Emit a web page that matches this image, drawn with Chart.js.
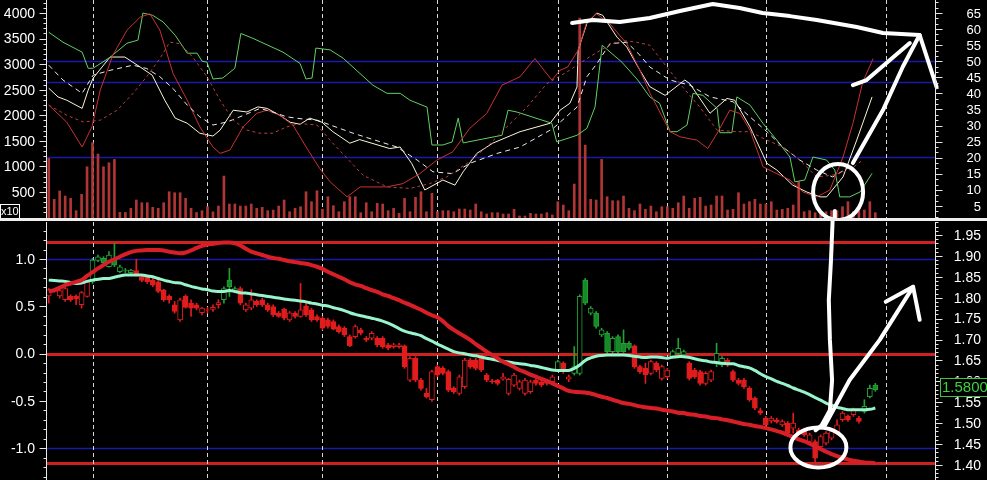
<!DOCTYPE html>
<html>
<head>
<meta charset="utf-8">
<script src="https://cdn.jsdelivr.net/npm/chart.js@4.4.1/dist/chart.umd.min.js"></script>
<style>
html, body { margin: 0; padding: 0; background: #000; }
#wrap { position: relative; width: 987px; height: 480px; overflow: hidden; background: #000; }
#top { position: absolute; left: 0; top: 0; }
#bot { position: absolute; left: 0; top: 218px; }
#sep { position: absolute; left: 0; top: 218px; width: 987px; height: 3px; background: #eeeeee; }
</style>
</head>
<body>
<div id="wrap">
  <canvas id="top" width="987" height="218"></canvas>
  <canvas id="bot" width="987" height="262"></canvas>
  <div id="sep"></div>
</div>
<script>
// ---- data ----
// volume bars, one per session
const volume = [1158,357,520,422,376,135,455,994,1463,1242,994,1072,1138,103,100,181,344,291,291,201,
  181,291,506,486,486,376,181,100,135,213,112,226,812,266,266,226,226,266,181,
  201,135,148,226,344,115,181,213,506,311,525,162,408,233,115,311,408,408,96,291,
  115,279,266,135,181,84,376,115,396,506,115,474,115,135,135,115,168,168,148,
  266,115,70,96,96,70,70,162,31,31,84,70,70,96,51,311,246,135,656,3900,1418,357,344,1138,
  408,330,330,422,181,135,266,162,226,115,213,213,181,291,
  422,181,376,396,226,246,422,422,148,162,486,266,311,357,266,266,311,148,162,181,
  246,701,115,135,96,96,115,135,135,213,311,115,135,148,311,96];

// oscillator lines of the upper panel: [session, value]
const greenLine = [[0,3625],[2.6,3430],[6.1,3235],[7.2,2920],[8.1,2920],[11.2,3135],[14.3,3410],[16.3,3470],[17.2,4000],[19.0,3955],[20.9,3825],[23.1,3565],[25.3,3215],[27.1,3215],[28.0,3060],[28.9,3040],[30.0,2710],[31.8,2730],[34.0,2920],[35.1,3600],[37.3,3505],[42.8,3235],[45.9,3015],[47.0,2710],[48.1,2730],[48.8,3315],[51.4,3280],[53.8,3115],[59.2,2590],[61.8,2430],[64.2,2430],[66.0,2295],[69.1,2160],[70.0,1420],[72.0,1420],[73.7,1480],[74.8,1945],[75.7,1460],[82.8,1610],[83.9,2100],[85.5,2065],[91.9,1845],[92.8,1480],[96.5,1610],[98.3,1745],[99.8,2165],[101.1,3370],[104.7,3040],[107.6,2690],[109.8,2360],[111.6,2235],[113.5,1680],[114.8,1680],[116.6,1810],[117.7,2430],[119.5,2390],[122.1,2135],[122.6,1660],[124.8,1660],[125.7,2360],[128.1,2200],[130.5,1840],[133.0,1515],[135.4,1185],[136.3,700],[138.1,735],[139.6,1185],[142.1,1125],[143.6,930],[144.5,405],[146.3,405],[148.2,500],[150.4,865]];
const whiteLine = [[0,2530],[1.7,2360],[3.3,2295],[6.1,2135],[7.2,2490],[8.1,2725],[11.2,3140],[13.9,3140],[16.7,2945],[18.9,2785],[21.2,2295],[23.1,1945],[25.3,1845],[27.6,1650],[30.0,1595],[31.3,1710],[33.7,2100],[36.2,2065],[38.2,2165],[39.9,2135],[42.2,2000],[44.1,1865],[45.9,1825],[47.7,1945],[49.9,1865],[51.9,1680],[55.0,1455],[56.8,1525],[62.3,1350],[64.2,1380],[66.3,1060],[68.7,540],[72.0,735],[74.2,635],[75.7,895],[78.2,1255],[81.1,1455],[86.1,1680],[91.6,1845],[93.4,2100],[95.2,2235],[96.5,2555],[96.7,3270],[98.3,3795],[100.1,4000],[101.2,3955],[103.8,3530],[105.6,3335],[108.0,2880],[109.8,2560],[112.6,2390],[116.2,2690],[117.1,2620],[120.8,2040],[123.9,2330],[125.3,2295],[128.1,1775],[131.2,1060],[133.0,930],[135.9,635],[138.5,500],[140.9,405],[142.1,405],[145.1,795],[147.6,1515],[150.4,2360]];
const redLine = [[0,2200],[3.3,1865],[6.1,1380],[7.9,1775],[9.4,2490],[11.7,3175],[14.3,3665],[16.7,3920],[18.5,3985],[20.3,3665],[22.7,2820],[25.3,2295],[27.6,1775],[30.0,1380],[31.3,1255],[33.1,1320],[35.5,1775],[38.0,2040],[39.9,2100],[42.2,2000],[44.6,1810],[47.2,1350],[49.5,960],[51.4,700],[54.5,405],[56.9,600],[61.8,600],[64.7,665],[67.8,860],[70.9,1125],[73.8,1285],[76.9,1745],[80.0,2035],[82.8,2590],[86.1,2755],[88.8,3110],[91.9,2690],[93.4,2880],[94.8,2945],[96.7,3270],[98.3,3830],[100.1,3985],[102.5,3790],[105.6,3400],[108.0,2880],[109.8,2440],[113.5,1680],[115.3,1580],[118.4,1515],[120.4,1350],[122.1,1650],[124.4,2100],[126.3,2035],[128.1,1710],[130.5,990],[133.0,860],[135.4,735],[137.8,500],[140.3,405],[142.7,540],[145.1,1185],[146.9,1840],[148.7,2650],[150.6,3110]];
const whiteDash = [[0,2980],[2.6,2690],[6.1,2430],[8.1,2785],[11.2,2880],[15.4,2980],[17.9,2915],[20.3,2755],[22.7,2525],[25.3,2200],[27.6,1970],[30.0,1810],[32.6,1870],[34.9,1970],[38.6,2135],[40.9,2065],[43.5,1970],[45.9,1935],[49.0,1905],[55.6,1650],[63.6,1380],[67.3,1125],[70.2,895],[73.8,860],[76.9,1060],[81.9,1255],[86.1,1380],[92.1,1740],[96.5,2160],[98.3,2755],[100.1,3005],[102.5,3400],[105.6,3430],[108.0,3175],[109.8,2945],[113.5,2690],[117.1,2590],[120.8,2360],[125.0,2265],[128.1,1970],[131.2,1680],[134.1,1380],[137.2,1125],[140.3,930],[143.2,795],[146.3,990],[149.3,1480]];
const redDash = [[0,2200],[3.3,2000],[6.3,1870],[9.4,1905],[12.5,2100],[15.4,2430],[17.9,2755],[20.3,3110],[22.1,3430],[24.0,3400],[26.3,3140],[28.9,2755],[31.3,2295],[33.7,1905],[36.2,1710],[38.6,1650],[40.9,1650],[43.5,1775],[45.9,1840],[49.0,1810],[51.9,1455],[54.5,1160],[57.4,830],[61.8,600],[66.0,570],[69.6,665],[72.7,795],[76.4,1060],[80.0,1380],[83.7,1775],[87.4,2165],[91.0,2620],[94.7,2850],[98.3,3110],[101.2,3300],[104.3,3470],[107.4,3430],[109.8,3370],[112.9,2945],[115.8,2555],[118.9,2165],[122.1,1710],[125.7,1680],[128.1,1680],[131.2,1515],[134.1,1380],[137.2,1125],[140.3,795],[143.2,830],[146.3,930],[148.7,1125]];

// price candles
const candleOpen = [1.804,1.820,1.804,1.795,1.803,1.803,1.783,1.803,1.838,1.889,
  1.894,1.874,1.892,1.862,1.866,1.860,1.865,1.850,1.849,1.842,
  1.838,1.819,1.804,1.783,1.747,1.803,1.787,1.783,1.764,1.771,
  1.772,1.783,1.795,1.842,1.815,1.822,1.771,1.775,1.791,1.795,
  1.783,1.779,1.763,1.772,1.747,1.763,1.755,1.780,1.771,1.755,
  1.751,1.747,1.743,1.731,1.727,1.707,1.707,1.723,1.703,1.703,
  1.703,1.703,1.687,1.683,1.683,1.685,1.603,1.655,1.603,1.571,
  1.556,1.635,1.631,1.623,1.583,1.571,1.587,1.651,1.651,1.655,
  1.615,1.601,1.603,1.605,1.571,1.591,1.583,1.571,1.575,1.603,
  1.599,1.603,1.599,1.627,1.643,1.605,1.619,1.619,1.842,1.763,
  1.763,1.711,1.715,1.671,1.707,1.691,1.691,1.685,1.635,1.631,
  1.619,1.643,1.607,1.611,1.659,1.667,1.663,1.643,1.627,1.623,
  1.595,1.603,1.643,1.639,1.651,1.623,1.603,1.603,1.583,1.560,
  1.530,1.512,1.505,1.508,1.496,1.500,1.488,1.484,1.484,1.456,
  1.456,1.444,1.452,1.464,1.476,1.508,1.516,1.520,1.512,1.528,
  1.563,1.591];
const candleHigh = [1.822,1.822,1.822,1.826,1.807,1.807,1.815,1.842,1.894,1.902,
  1.898,1.910,1.930,1.878,1.870,1.868,1.892,1.852,1.850,1.846,
  1.841,1.820,1.807,1.791,1.799,1.807,1.795,1.787,1.777,1.777,
  1.783,1.795,1.826,1.870,1.826,1.826,1.787,1.819,1.795,1.799,
  1.787,1.783,1.767,1.775,1.767,1.767,1.834,1.791,1.775,1.759,
  1.755,1.751,1.747,1.735,1.731,1.711,1.735,1.727,1.707,1.719,
  1.707,1.707,1.691,1.691,1.691,1.687,1.659,1.659,1.607,1.583,
  1.627,1.639,1.635,1.627,1.587,1.615,1.655,1.655,1.655,1.659,
  1.619,1.605,1.605,1.619,1.607,1.619,1.603,1.607,1.603,1.607,
  1.603,1.605,1.615,1.651,1.647,1.615,1.683,1.807,1.846,1.779,
  1.767,1.727,1.719,1.707,1.711,1.723,1.695,1.687,1.639,1.643,
  1.651,1.647,1.639,1.631,1.675,1.703,1.675,1.647,1.631,1.627,
  1.623,1.627,1.691,1.659,1.655,1.627,1.607,1.607,1.587,1.563,
  1.536,1.516,1.516,1.512,1.508,1.504,1.524,1.488,1.488,1.476,
  1.460,1.472,1.480,1.488,1.508,1.528,1.520,1.536,1.516,1.556,
  1.591,1.595];
const candleLow = [1.787,1.813,1.799,1.791,1.791,1.783,1.775,1.801,1.834,1.886,
  1.882,1.873,1.874,1.860,1.860,1.858,1.852,1.838,1.834,1.826,
  1.812,1.791,1.787,1.763,1.743,1.775,1.755,1.771,1.759,1.763,
  1.767,1.775,1.787,1.803,1.812,1.783,1.767,1.771,1.779,1.779,
  1.767,1.755,1.753,1.747,1.743,1.751,1.753,1.755,1.743,1.743,
  1.723,1.727,1.723,1.715,1.707,1.683,1.703,1.711,1.695,1.699,
  1.683,1.679,1.675,1.679,1.679,1.631,1.599,1.599,1.579,1.560,
  1.552,1.611,1.615,1.575,1.571,1.567,1.583,1.631,1.627,1.623,
  1.599,1.595,1.591,1.603,1.567,1.587,1.579,1.567,1.571,1.591,
  1.587,1.591,1.595,1.623,1.619,1.599,1.615,1.615,1.783,1.759,
  1.727,1.707,1.667,1.667,1.667,1.669,1.675,1.631,1.619,1.595,
  1.615,1.623,1.603,1.607,1.655,1.663,1.659,1.603,1.607,1.591,
  1.591,1.599,1.635,1.635,1.635,1.599,1.591,1.583,1.552,1.532,
  1.520,1.492,1.500,1.500,1.492,1.472,1.476,1.472,1.468,1.452,
  1.408,1.440,1.448,1.460,1.472,1.504,1.504,1.516,1.500,1.524,
  1.560,1.576];
const candleClose = [1.819,1.815,1.817,1.822,1.795,1.797,1.812,1.838,1.890,1.898,
  1.884,1.902,1.878,1.874,1.865,1.866,1.854,1.841,1.838,1.830,
  1.815,1.795,1.795,1.767,1.795,1.777,1.775,1.775,1.775,1.770,
  1.777,1.788,1.822,1.826,1.822,1.787,1.783,1.795,1.783,1.783,
  1.771,1.759,1.755,1.751,1.764,1.755,1.771,1.759,1.747,1.747,
  1.727,1.731,1.725,1.719,1.711,1.685,1.731,1.715,1.699,1.715,
  1.687,1.683,1.679,1.687,1.687,1.635,1.655,1.603,1.583,1.563,
  1.623,1.615,1.619,1.579,1.575,1.611,1.651,1.635,1.631,1.627,
  1.603,1.599,1.595,1.611,1.605,1.615,1.599,1.603,1.599,1.595,
  1.591,1.595,1.611,1.647,1.623,1.611,1.635,1.803,1.787,1.775,
  1.731,1.723,1.671,1.703,1.671,1.671,1.679,1.635,1.623,1.615,
  1.647,1.627,1.635,1.627,1.671,1.679,1.671,1.607,1.611,1.595,
  1.619,1.623,1.667,1.655,1.639,1.603,1.595,1.587,1.556,1.536,
  1.524,1.496,1.512,1.503,1.504,1.476,1.500,1.476,1.472,1.472,
  1.416,1.468,1.476,1.484,1.496,1.524,1.508,1.532,1.504,1.540,
  1.583,1.580];

// moving averages on price
const maSlow = [1.815,1.818,1.824,1.830,1.834,1.838,1.842,1.852,1.861,1.870,
  1.878,1.886,1.892,1.898,1.904,1.909,1.912,1.913,1.914,1.914,
  1.914,1.913,1.910,1.908,1.906,1.908,1.913,1.919,1.924,1.927,
  1.929,1.931,1.932,1.932,1.930,1.925,1.917,1.910,1.906,1.902,
  1.898,1.895,1.893,1.890,1.887,1.885,1.883,1.881,1.878,1.874,
  1.869,1.862,1.856,1.850,1.844,1.837,1.832,1.828,1.823,1.818,
  1.814,1.808,1.804,1.799,1.794,1.788,1.783,1.777,1.771,1.764,
  1.758,1.753,1.744,1.732,1.723,1.715,1.707,1.699,1.689,1.680,
  1.671,1.663,1.655,1.647,1.641,1.634,1.627,1.622,1.616,1.611,
  1.606,1.601,1.595,1.589,1.583,1.577,1.575,1.574,1.573,1.571,
  1.567,1.563,1.560,1.556,1.552,1.548,1.546,1.543,1.540,1.538,
  1.536,1.535,1.532,1.530,1.528,1.525,1.524,1.521,1.520,1.517,
  1.516,1.513,1.512,1.509,1.507,1.504,1.501,1.498,1.496,1.493,
  1.491,1.488,1.485,1.481,1.477,1.472,1.467,1.461,1.457,1.451,
  1.444,1.438,1.432,1.426,1.421,1.417,1.413,1.410,1.408,1.406,
  1.405,1.404];
const maFast = [1.842,1.841,1.840,1.839,1.836,1.834,1.835,1.839,1.842,1.844,
  1.846,1.846,1.849,1.852,1.854,1.854,1.854,1.854,1.852,1.850,
  1.846,1.842,1.839,1.836,1.835,1.831,1.827,1.824,1.821,1.819,
  1.816,1.815,1.815,1.817,1.815,1.812,1.811,1.809,1.807,1.805,
  1.803,1.801,1.799,1.797,1.795,1.794,1.792,1.790,1.787,1.785,
  1.782,1.780,1.776,1.773,1.769,1.764,1.760,1.757,1.754,1.751,
  1.748,1.744,1.739,1.733,1.726,1.720,1.716,1.713,1.709,1.702,
  1.696,1.689,1.683,1.677,1.671,1.668,1.666,1.663,1.661,1.658,
  1.655,1.653,1.650,1.648,1.646,1.644,1.642,1.641,1.638,1.636,
  1.633,1.630,1.627,1.626,1.626,1.626,1.631,1.639,1.650,1.656,
  1.660,1.662,1.663,1.663,1.663,1.663,1.662,1.660,1.658,1.657,
  1.658,1.658,1.657,1.655,1.658,1.659,1.659,1.657,1.654,1.651,
  1.649,1.646,1.645,1.643,1.642,1.642,1.638,1.635,1.632,1.626,
  1.618,1.611,1.606,1.600,1.595,1.590,1.584,1.579,1.574,1.568,
  1.561,1.555,1.548,1.543,1.538,1.535,1.532,1.532,1.532,1.532,
  1.533,1.536];
const lastPrice = 1.5800;

// month separators (session index) and levels
const monthStarts = [8, 29, 50, 71, 93, 113, 131, 153];
const topBlueLevels = [3059, 2643, 1190];
const botRedLevels = [1.18, 0.0, -1.157];
const botBlueLevels = [1.0, -1.0];

// tick labels
const topLeftTicks = [500, 1000, 1500, 2000, 2500, 3000, 3500, 4000];
const topRightTicks = [5, 10, 15, 20, 25, 30, 35, 40, 45, 50, 55, 60, 65];
const botLeftTicks = [1.0, 0.5, 0.0, -0.5, -1.0];
const botRightTicks = [1.95, 1.90, 1.85, 1.80, 1.75, 1.70, 1.65, 1.60, 1.55, 1.50, 1.45, 1.40];

// hand drawn marks on the screenshot: [session, value]
const scribbleTopCurve = [[95.6,3805],[99.4,3864],[104.3,3825],[109.8,3903],[115.3,4040],[121.3,4177],[126.2,4100],[130.4,4000],[135.4,3940],[140.3,3864],[147.6,3727],[152.4,3610],[159.1,3570],[162.2,2552]];
const scribbleTopArrow = [[146.9,1067],[152.4,2102],[156.0,2945],[158.6,3473],[159.1,3570]];
const scribbleTopBarb = [[146.9,2591],[149.4,2690],[157.3,3414]];
const scribbleTopLink = [[143.6,129],[143.6,-8]];
const scribbleTopRing = [144.2, 500];
const scribbleBotLine = [[143.2,1.986],[142.9,1.890],[142.5,1.794],[142.7,1.699],[143.1,1.603],[142.7,1.531],[141.2,1.495],[140.1,1.483]];
const scribbleBotArrow = [[141.8,1.495],[146.3,1.603],[151.8,1.699],[157.9,1.826]];
const scribbleBotBarb = [[152.9,1.790],[157.9,1.826],[159.1,1.747]];
const scribbleBotRing = [140.6, 1.442];

// ---- helpers ----
const xy = pts => pts.map(p => ({ x: p[0], y: p[1] }));
const RED = '#e01c1c';
const GREEN = '#178a28';
const isUp = i => candleClose[i] > maFast[i];
const isHollow = i => candleClose[i] > candleOpen[i];

const drawAxis = (chart, scale, side, ticks, minorStep, fmt, textRight, font) => {
    const { ctx, chartArea: a } = chart;
    const x0 = (side === 'left' ? a.left : a.right) + 0.5;
    const d = side === 'left' ? -1 : 1;
    ctx.save();
    ctx.strokeStyle = '#e6e6e6';
    ctx.lineWidth = 1;
    ctx.beginPath();
    ctx.moveTo(x0, a.top);
    ctx.lineTo(x0, a.bottom);
    const k0 = Math.ceil(scale.min / minorStep), k1 = Math.floor(scale.max / minorStep);
    for (let k = k0; k <= k1; k++) {
        const y = Math.round(scale.getPixelForValue(k * minorStep)) + 0.5;
        ctx.moveTo(x0, y);
        ctx.lineTo(x0 + d * 3, y);
    }
    ticks.forEach(v => {
        const y = Math.round(scale.getPixelForValue(v)) + 0.5;
        ctx.moveTo(x0, y);
        ctx.lineTo(x0 + d * 7, y);
    });
    ctx.stroke();
    ctx.fillStyle = '#ffffff';
    ctx.font = font;
    ctx.textAlign = 'right';
    ctx.textBaseline = 'middle';
    ticks.forEach(v => ctx.fillText(fmt(v), textRight, scale.getPixelForValue(v) + 1));
    ctx.restore();
};

const drawLevels = (chart, scale, levels, color, width) => {
    const { ctx, chartArea: a } = chart;
    ctx.save();
    ctx.strokeStyle = color;
    ctx.lineWidth = width;
    levels.forEach(v => {
        const y = Math.round(scale.getPixelForValue(v)) + 0.5;
        ctx.beginPath();
        ctx.moveTo(a.left, y);
        ctx.lineTo(a.right, y);
        ctx.stroke();
    });
    ctx.restore();
};

const drawMonths = chart => {
    const { ctx, chartArea: a, scales } = chart;
    ctx.save();
    ctx.strokeStyle = '#d8d8d8';
    ctx.lineWidth = 1;
    ctx.setLineDash([4, 3]);
    monthStarts.forEach(m => {
        const x = Math.round(scales.x.getPixelForValue(m)) + 0.5;
        ctx.beginPath();
        ctx.moveTo(x, a.top);
        ctx.lineTo(x, a.bottom);
        ctx.stroke();
    });
    ctx.restore();
};

const strokePath = (chart, yScale, pts) => {
    const { ctx, scales } = chart;
    ctx.beginPath();
    pts.forEach((p, i) => {
        const x = scales.x.getPixelForValue(p[0]), y = yScale.getPixelForValue(p[1]);
        if (i === 0) ctx.moveTo(x, y); else ctx.lineTo(x, y);
    });
    ctx.stroke();
};

const strokeRing = (chart, yScale, c, rx, ry) => {
    const { ctx, scales } = chart;
    ctx.beginPath();
    ctx.ellipse(scales.x.getPixelForValue(c[0]), yScale.getPixelForValue(c[1]), rx, ry, 0, 0, Math.PI * 2);
    ctx.stroke();
};

const penStyle = ctx => {
    ctx.strokeStyle = '#ffffff';
    ctx.lineWidth = 4;
    ctx.lineCap = 'round';
    ctx.lineJoin = 'round';
};

// ---- upper panel ----
const topDecor = {
    id: 'topDecor',
    beforeDatasetsDraw(chart) {
        drawLevels(chart, chart.scales.y, topBlueLevels, '#1a1aa8', 1.5);
        drawMonths(chart);
    },
    afterDatasetsDraw(chart) {
        const { ctx } = chart;
        ctx.save();
        penStyle(ctx);
        strokePath(chart, chart.scales.y, scribbleTopCurve);
        strokePath(chart, chart.scales.y, scribbleTopArrow);
        strokePath(chart, chart.scales.y, scribbleTopBarb);
        strokePath(chart, chart.scales.y, scribbleTopLink);
        strokeRing(chart, chart.scales.y, scribbleTopRing, 25, 28);
        ctx.restore();
    },
    afterDraw(chart) {
        const { ctx } = chart;
        drawAxis(chart, chart.scales.y, 'left', topLeftTicks, 100, v => String(v), 35, '14px "Liberation Sans"');
        drawAxis(chart, chart.scales.y2, 'right', topRightTicks, 5 / 3, v => String(v), 981, '13px "Liberation Sans"');
        ctx.save();
        ctx.fillStyle = '#000';
        ctx.fillRect(0, 204, 20, 14);
        ctx.strokeStyle = '#ffffff';
        ctx.lineWidth = 1;
        ctx.strokeRect(0.5, 204.5, 19, 14);
        ctx.fillStyle = '#ffffff';
        ctx.font = '11px "Liberation Sans"';
        ctx.textAlign = 'left';
        ctx.textBaseline = 'middle';
        ctx.fillText('x10', 1, 212);
        ctx.restore();
    }
};

const thin = (data, color, dash) => ({
    type: 'line', data: xy(data), borderColor: color, borderWidth: 1,
    borderDash: dash || [], pointRadius: 0, tension: 0, order: 1
});

new Chart(document.getElementById('top'), {
    type: 'bar',
    data: {
        datasets: [
            thin(redDash, '#b84040', [3, 3]),
            thin(whiteDash, '#ececec', [5, 4]),
            thin(redLine, '#c83232'),
            thin(greenLine, '#62d062'),
            thin(whiteLine, '#fbf6d8'),
            {
                type: 'bar', data: volume.map((v, i) => ({ x: i, y: v })),
                backgroundColor: '#b03636', barThickness: 2, order: 5
            }
        ]
    },
    options: {
        responsive: false, animation: false, devicePixelRatio: 1,
        layout: { padding: { left: 46, right: 52, top: 0, bottom: 0 } },
        plugins: { legend: { display: false }, tooltip: { enabled: false } },
        scales: {
            x: { type: 'linear', min: -0.5, max: 161.9, offset: false, display: false },
            y: { min: -7.8, max: 4255, display: false },
            y2: { position: 'right', min: 1.27, max: 69.04, display: false }
        }
    },
    plugins: [topDecor]
});

// ---- lower panel ----
const botDecor = {
    id: 'botDecor',
    beforeDatasetsDraw(chart) {
        drawLevels(chart, chart.scales.y, botBlueLevels, '#1a1aa8', 1.5);
        drawLevels(chart, chart.scales.y, botRedLevels, '#d02020', 3);
        drawMonths(chart);
    },
    afterDatasetsDraw(chart) {
        const { ctx } = chart;
        ctx.save();
        penStyle(ctx);
        strokePath(chart, chart.scales.yp, scribbleBotLine);
        strokePath(chart, chart.scales.yp, scribbleBotArrow);
        strokePath(chart, chart.scales.yp, scribbleBotBarb);
        strokeRing(chart, chart.scales.yp, scribbleBotRing, 28, 20);
        ctx.restore();
    },
    afterDraw(chart) {
        const { ctx } = chart;
        drawAxis(chart, chart.scales.y, 'left', botLeftTicks, 0.1, v => v.toFixed(1), 35, '14px "Liberation Sans"');
        drawAxis(chart, chart.scales.yp, 'right', botRightTicks, 0.01, v => v.toFixed(2), 981, '14px "Liberation Sans"');
        const y = chart.scales.yp.getPixelForValue(lastPrice);
        ctx.save();
        ctx.fillStyle = '#000';
        ctx.fillRect(940, y - 12, 47, 18);
        ctx.strokeStyle = '#3cc83c';
        ctx.lineWidth = 1;
        ctx.strokeRect(940.5, Math.round(y - 12) + 0.5, 50, 18);
        ctx.fillStyle = '#3cd23c';
        ctx.font = '15px "Liberation Sans"';
        ctx.textAlign = 'left';
        ctx.textBaseline = 'middle';
        ctx.fillText(lastPrice.toFixed(4), 942, y - 2);
        ctx.restore();
    }
};

const sessions = candleOpen.map((_, i) => i);

new Chart(document.getElementById('bot'), {
    type: 'bar',
    data: {
        datasets: [
            {
                type: 'line', data: maSlow.map((v, i) => ({ x: i, y: v })), yAxisID: 'yp',
                borderColor: '#d81e26', borderWidth: 4, pointRadius: 0, tension: 0.4, order: 0
            },
            {
                type: 'line', data: maFast.map((v, i) => ({ x: i, y: v })), yAxisID: 'yp',
                borderColor: '#98f4cc', borderWidth: 3, pointRadius: 0, tension: 0.4, order: 0
            },
            {
                type: 'bar', yAxisID: 'yp', grouped: false, order: 1,
                data: sessions.map(i => ({ x: i, y: [candleOpen[i], candleClose[i]] })),
                backgroundColor: c => isHollow(c.dataIndex) ? '#000' : (isUp(c.dataIndex) ? GREEN : RED),
                borderColor: c => isUp(c.dataIndex) ? '#22a034' : RED,
                borderWidth: 1, borderSkipped: false, barThickness: 5
            },
            {
                type: 'bar', yAxisID: 'yp', grouped: false, order: 2,
                data: sessions.map(i => ({ x: i, y: [candleLow[i], candleHigh[i]] })),
                backgroundColor: c => isUp(c.dataIndex) ? '#22a034' : RED,
                barThickness: 1
            }
        ]
    },
    options: {
        responsive: false, animation: false, devicePixelRatio: 1,
        layout: { padding: { left: 46, right: 52, top: 4, bottom: 0 } },
        plugins: { legend: { display: false }, tooltip: { enabled: false } },
        scales: {
            x: { type: 'linear', min: -0.5, max: 161.9, offset: false, display: false },
            y: { min: -1.336, max: 1.391, display: false },
            yp: { position: 'right', min: 1.364, max: 1.981, display: false }
        }
    },
    plugins: [botDecor]
});
</script>
</body>
</html>
